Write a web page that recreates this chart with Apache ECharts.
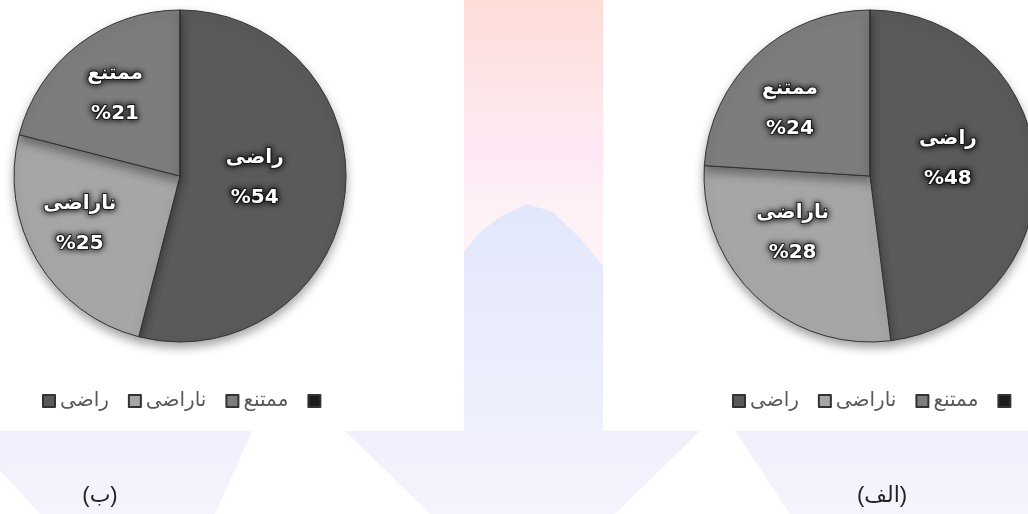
<!DOCTYPE html>
<html>
<head>
<meta charset="utf-8">
<script src="https://cdn.jsdelivr.net/npm/echarts@6/dist/echarts.min.js"></script>
<style>
html,body{margin:0;padding:0;background:#fff;}
#chart{width:1028px;height:514px;}
</style>
</head>
<body>
<div id="chart"></div>
<script>
// ---- data ----
const categories = ['راضی', 'ناراضی', 'ممتنع'];
const valuesB = [54, 25, 21];   // left chart (ب)
const valuesA = [48, 28, 24];   // right chart (الف)
const panelLabels = ['(ب)', '(الف)'];
const legendExtraName = ' ';    // extra dark legend key with no text

// ---- styling / layout ----
const sliceColors = ['#5a5a5a', '#a6a6a6', '#7d7d7d'];
const extraKeyColor = '#1c1c1c';
const pieRadius = 166;
const centers = [[180, 176], [870, 176]];
// label placement (Excel "best fit" look): radius fraction and angular shift (deg) from slice middle
const labelRadial = [[0.45, 0.67, 0.63], [0.48, 0.58, 0.63]];
const labelShift = [[-5.7, 5, -0.6], [-8.7, 10.3, -6.8]];

function buildData(vals) {
  const d = categories.map((n, i) => ({
    name: n, value: vals[i], itemStyle: { color: sliceColors[i] }
  }));
  d.push({ name: legendExtraName, value: 0, itemStyle: { color: extraKeyColor },
           label: { show: false }, labelLine: { show: false } });
  return d;
}

function makeSeries(vals, idx) {
  const c = centers[idx];
  return {
    type: 'pie',
    center: c,
    radius: pieRadius,
    startAngle: 90,
    clockwise: true,
    avoidLabelOverlap: false,
    data: buildData(vals),
    itemStyle: {
      borderColor: '#333',
      borderWidth: 1,
      shadowBlur: 10,
      shadowOffsetY: 5,
      shadowColor: 'rgba(0,0,0,0.35)'
    },
    label: {
      show: true,
      position: 'inside',
      formatter: p => p.name + '\n%' + p.value,
      color: '#fff',
      fontSize: 20,
      fontWeight: 'bold',
      fontFamily: '"DejaVu Sans", sans-serif',
      lineHeight: 40,
      textBorderColor: 'rgba(25,25,25,0.85)',
      textBorderWidth: 2,
      textShadowColor: 'rgba(0,0,0,0.9)',
      textShadowBlur: 6
    },
    labelLine: { show: false },
    labelLayout: function (p) {
      const f = labelRadial[idx][p.dataIndex];
      if (f == null) return {};
      const r = p.labelRect;
      const lx = r.x + r.width / 2, ly = r.y + r.height / 2;
      const vx = lx - c[0], vy = ly - c[1];
      const d = Math.sqrt(vx * vx + vy * vy) || 1;
      const a = labelShift[idx][p.dataIndex] * Math.PI / 180;
      const ux = vx / d, uy = vy / d;
      const rx = ux * Math.cos(a) - uy * Math.sin(a);
      const ry = ux * Math.sin(a) + uy * Math.cos(a);
      const nx = c[0] + rx * f * pieRadius, ny = c[1] + ry * f * pieRadius;
      return { dx: nx - lx, dy: ny - ly };
    },
    emphasis: { disabled: true }
  };
}

const legendNames = categories.concat([legendExtraName]);
function makeLegend(left) {
  return {
    data: legendNames,
    left: left,
    top: 386,
    width: 400,
    orient: 'horizontal',
    icon: 'rect',
    itemWidth: 12,
    itemHeight: 12,
    itemGap: 19,
    selectedMode: false,
    textStyle: { color: '#595959', fontSize: 20, fontFamily: '"DejaVu Sans", sans-serif' }
  };
}

const bg = [
  { type: 'rect', z: -10, shape: { x: 0, y: 0, width: 1028, height: 514 }, style: { fill: '#ffffff' } },
  // middle shaft (pink top)
  { type: 'rect', z: -9, shape: { x: 464, y: 0, width: 139, height: 431 },
    style: { fill: new echarts.graphic.LinearGradient(0, 0, 0, 1, [
      { offset: 0, color: '#fddcd8' }, { offset: 0.3, color: '#fde9ef' },
      { offset: 0.34, color: '#fde6f5' }, { offset: 0.5, color: '#fef2f6' }, { offset: 1, color: '#fef4f6' }]) } },
  // blue arch
  { type: 'polygon', z: -8, shape: { points: [[464, 431], [464, 252], [480, 232], [500, 217], [527, 204], [553, 212], [580, 238], [603, 266], [603, 431]] },
    style: { fill: new echarts.graphic.LinearGradient(0, 0, 0, 1, [
      { offset: 0, color: '#e2e7fb' }, { offset: 1, color: '#eef0fc' }]) } },
  // bottom band
  { type: 'rect', z: -9, shape: { x: 0, y: 431, width: 1028, height: 83 },
    style: { fill: new echarts.graphic.LinearGradient(0, 0, 0, 1, [
      { offset: 0, color: '#eff0fc' }, { offset: 1, color: '#f4f4fd' }]) } },
  // white gaps in bottom band
  { type: 'polygon', z: -8, shape: { points: [[252, 431], [345, 431], [430, 514], [215, 514]] }, style: { fill: '#ffffff' } },
  { type: 'polygon', z: -8, shape: { points: [[700, 431], [735, 431], [790, 514], [615, 514]] }, style: { fill: '#ffffff' } },
  { type: 'polygon', z: -8, shape: { points: [[0, 470], [0, 514], [40, 514]] }, style: { fill: '#ffffff' } },
  // panel captions
  { type: 'text', z: 5, style: { text: panelLabels[0], x: 100, y: 496, align: 'center', verticalAlign: 'middle',
      font: '22px "Liberation Sans", "DejaVu Sans", sans-serif', fill: '#222' } },
  { type: 'text', z: 5, style: { text: panelLabels[1], x: 882, y: 496, align: 'center', verticalAlign: 'middle',
      font: '22px "Liberation Sans", "DejaVu Sans", sans-serif', fill: '#222' } }
];

const chart = echarts.init(document.getElementById('chart'), null, { renderer: 'canvas' });
chart.setOption({
  animation: false,
  backgroundColor: 'transparent',
  graphic: bg,
  legend: [makeLegend(37), makeLegend(727)],
  series: [makeSeries(valuesB, 0), makeSeries(valuesA, 1)]
});
</script>
</body>
</html>
